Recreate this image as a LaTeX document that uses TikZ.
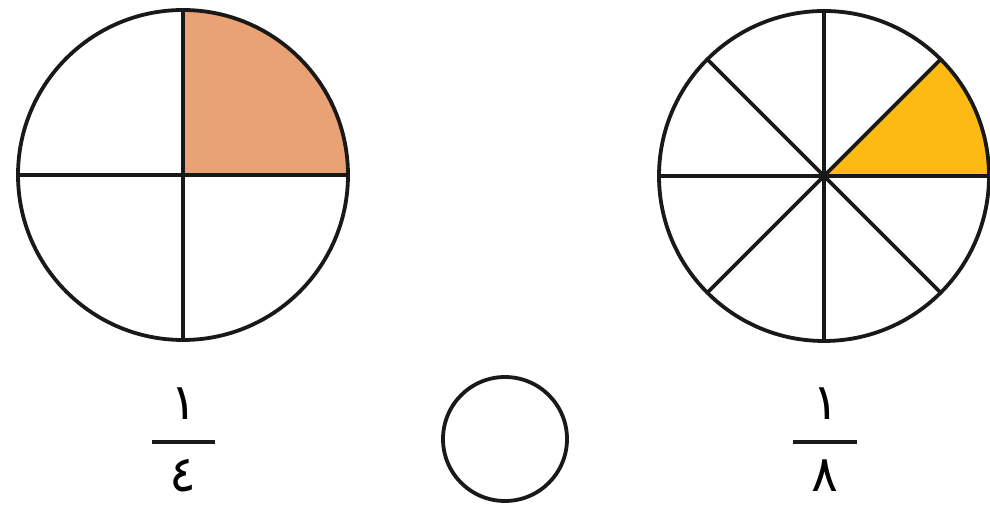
\documentclass[tikz,border=0pt]{standalone}
\usepackage{fontspec}
\usetikzlibrary{calc}
\newfontfamily\arabicfont[Script=Arabic]{DejaVu Sans}
\definecolor{peach}{HTML}{E9A273}
\definecolor{gold}{HTML}{FCBA12}
\begin{document}
\begin{tikzpicture}[x=1pt,y=1pt,line join=round,
  edge/.style={line width=3.8pt,draw=black!90},
  digit/.style={font=\arabicfont\fontsize{50}{50}\selectfont,inner sep=0pt}]
\useasboundingbox (0,0) rectangle (990,505);
% left circle, quarters
\coordinate (L) at (183,330);
\fill[peach] (L) -- ++(0:165) arc (0:90:165) -- cycle;
\draw[edge] (L) circle (165);
\draw[edge] ($(L)+(-165,0)$) -- ($(L)+(165,0)$);
\draw[edge] ($(L)+(0,-165)$) -- ($(L)+(0,165)$);
% right circle, eighths
\coordinate (R) at (824,329);
\fill[gold] (R) -- ++(0:165) arc (0:45:165) -- cycle;
\draw[edge] (R) circle (165);
\foreach \a in {0,45,90,135} {
  \draw[edge] ($(R)+(\a:165)$) -- ($(R)+(\a+180:165)$);
}
% small whole circle
\coordinate (S) at (505,66);
\draw[edge] (S) circle (62);
% fraction 1/4
\coordinate (B1l) at (152,63);
\coordinate (B1r) at (215,63);
\draw[edge] (B1l) -- (B1r);
\node[digit] (n1) at (184,101) {١};
\node[digit] (d1) at (183,29) {٤};
% fraction 1/8
\coordinate (B2l) at (793,63);
\coordinate (B2r) at (857,63);
\draw[edge] (B2l) -- (B2r);
\node[digit] (n2) at (826,101) {١};
\node[digit] (d2) at (825,29) {٨};
\end{tikzpicture}
\end{document}
